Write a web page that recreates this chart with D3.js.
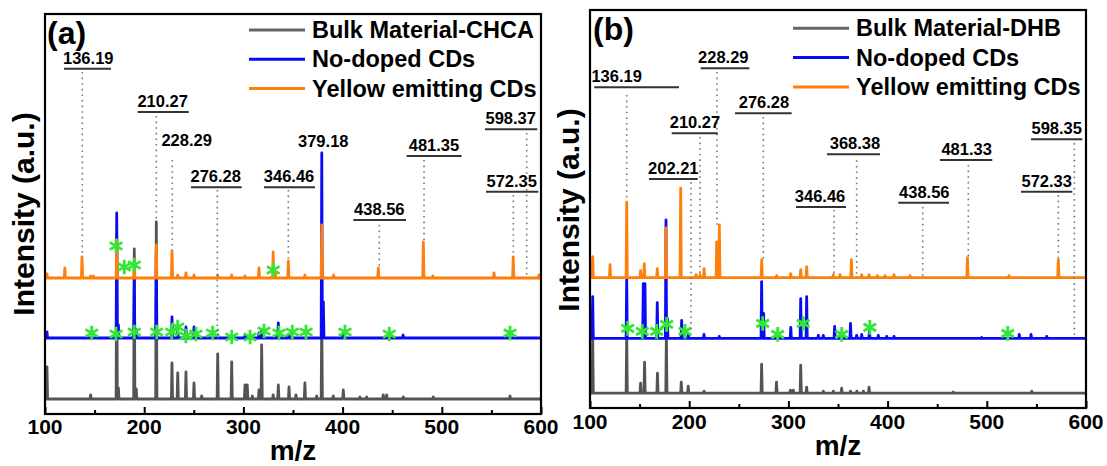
<!DOCTYPE html>
<html><head><meta charset="utf-8">
<script src="https://cdn.jsdelivr.net/npm/d3@7"></script>
<style>
body{margin:0;background:#fff}
text{font-family:"Liberation Sans",Arial,Helvetica,sans-serif;font-weight:bold;fill:#000}
</style>
</head><body>
<svg id="chart" width="1107" height="466"></svg>
<script>
// ---------- data ----------
const mzTicks = [100, 200, 300, 400, 500, 600];
const mzMinorTicks = [150, 250, 350, 450, 550];
const seriesA = ["Bulk Material-CHCA", "No-doped CDs", "Yellow emitting CDs"];
const seriesB = ["Bulk Material-DHB", "No-doped CDs", "Yellow emitting CDs"];
// baseline offsets (a.u.) of stacked spectra: bulk, no-doped, yellow
const offsetsA = [15, 76, 136];
const offsetsB = [15, 70, 131];

// peaks: [m/z, relative intensity]
const bulkA = [[102,32],[146,4],[172.3,165],[174,11],[190,150],[192,10],[212.2,177],[228,36],[233.8,26],[242.1,27],[250.2,16],[258,3],[274.1,45],[288.2,37],[301.6,14],[303.9,14],[309,3],[315.7,9],[318.4,54],[330,4],[335.2,14],[346,12],[353,4],[362,16],[373.9,3],[379,80],[390.6,3],[400.7,9],[417.5,2],[424.3,2],[441,4],[444.4,4],[461.2,2],[491.4,2],[568.8,3]];
const nodopedA = [[102,6],[172.3,125],[174,13],[190,58],[192,8],[212.2,85],[228,21],[233.8,8],[242.1,11],[250.2,11],[274.1,3],[288.2,2],[301.6,2],[315.7,5],[318.4,8],[335.2,15],[346,3],[379,185],[380.6,36],[400.7,3],[461,3]];
const yellowA = [[102,4],[120,10],[137.3,21],[146,2],[149,2],[172.3,38],[190,18],[212.2,33],[228,27],[233.8,3],[242.1,5],[250.2,3],[274.1,3],[288.2,3],[301.6,2],[315.7,10],[330,26],[332,6],[345.3,17],[362,3],[379,53],[391,3],[436,10],[481.4,36],[491,2],[552.6,5],[572,21],[598,3]];
// asterisk markers: [m/z, height above that spectrum's baseline]
const starsYellowA = [[171.6,32],[179.9,11],[190,13],[330.1,8]];
const starsNodopedA = [[147.1,5],[171.6,4],[190,6],[212.6,6],[227.7,6],[233.8,11],[242.1,2],[252.2,4],[269,5],[288.2,1],[306.7,1],[320.8,7],[335.9,5],[349.3,6],[363.1,6],[402.4,6],[447.1,4],[568.8,5]];

const bulkB = [[102.7,60],[137,60],[151,10],[155,31],[168,20],[177,60],[192,11],[199,7],[215,2],[273,29],[288,11],[302,3],[305,3],[312.4,28],[318.4,6],[335.2,2],[345.3,2],[353.7,5],[362.6,2],[369,2],[375.6,2],[381.3,6],[466.2,1],[545.3,2]];
const nodopedB = [[102.7,42],[137,60],[153.7,55],[155.4,55],[167.8,36],[176.6,119],[178,20],[192.4,18],[199.1,4],[214.9,4],[230.3,2],[273,57],[275,25],[302.4,11],[312.4,40],[318.4,42],[330.2,3],[335.2,3],[346.6,12],[362.6,15],[368.8,3],[373.9,4],[381.7,8],[390.6,3],[399.1,2],[406.5,2],[494.8,1],[532.7,4],[544.6,4],[560.4,2]];
const yellowB = [[102.7,21],[120.2,13],[137,76],[151,7],[154.7,14],[167.8,9],[176.6,50],[191.4,90],[206.9,3],[210.9,3],[215,9],[227.7,36],[230.4,53],[273.1,18],[288.2,2],[302.3,4],[312.4,8],[318.4,11],[345.3,3],[352,3],[363.5,18],[373.9,3],[381.3,3],[389.6,2],[397.4,2],[406.5,3],[422.6,2],[480.5,20],[522.4,2],[572.1,18]];
const starsNodopedB = [[138,10],[152.7,7],[167.2,7],[177.3,14],[195.8,7],[274.1,15],[289.2,4],[315,15],[353.7,4],[382.1,11],[521.1,5]];

// peak annotations: text, label centre m/z, underline level, underline m/z span (null = none), guide m/z, guide top, guide bottom
const annotA = [
  {t:"136.19", cx:143.6, y:345.3, u:[119.2,166.5], lx:137.6, l:[342,161]},
  {t:"210.27", cx:218.6, y:302,   u:[193.4,244.9], lx:212.2, l:[298,192]},
  {t:"228.29", cx:242.8, y:263.3, u:null,          lx:228.3, l:[254,164]},
  {t:"276.28", cx:272.1, y:226.7, u:[247.2,298.3], lx:273.7, l:[224,83]},
  {t:"346.46", cx:346.0, y:226.7, u:[320.8,372.2], lx:345.3, l:[224,153]},
  {t:"379.18", cx:380.5, y:262.3, u:null,          lx:null,  l:null},
  {t:"438.56", cx:437.0, y:194,   u:[410.8,463.9], lx:437.0, l:[189,146]},
  {t:"481.35", cx:492.1, y:258,   u:[464.6,520.0], lx:482.1, l:[254,172]},
  {t:"598.37", cx:569.5, y:284.7, u:[543.5,596.3], lx:585.6, l:[281,139]},
  {t:"572.35", cx:570.5, y:222.3, u:[544.6,597.3], lx:572.1, l:[219,157]}
];
const annotB = [
  {t:"136.19", cx:126.9, y:322.3, u:[104.3,189.7], lx:137.0, l:[314.6,208]},
  {t:"228.29", cx:234.4, y:341.4, u:[211.6,260.6], lx:228.0, l:[337.7,184]},
  {t:"276.28", cx:275.4, y:296.2, u:[246.2,303.3], lx:274.7, l:[292.5,149.7]},
  {t:"210.27", cx:205.8, y:276.1, u:[182.4,228.7], lx:210.9, l:[272.4,132.7]},
  {t:"202.21", cx:184.0, y:230.2, u:[159.5,208.6], lx:201.8, l:[227.1,78.4]},
  {t:"346.46", cx:331.9, y:202,   u:[307.7,358.1], lx:346.0, l:[199,132.7]},
  {t:"368.38", cx:367.1, y:255,   u:[338.9,392.3], lx:368.8, l:[249,133.7]},
  {t:"438.56", cx:437.0, y:206.3, u:[410.8,461.9], lx:435.4, l:[202,132.7]},
  {t:"481.33", cx:479.7, y:249.2, u:[452.8,505.5], lx:481.4, l:[244.2,151.8]},
  {t:"598.35", cx:570.5, y:270,   u:[544.6,596.3], lx:588.2, l:[266.3,70.4]},
  {t:"572.33", cx:560.4, y:217.4, u:[534.5,586.2], lx:572.1, l:[214,149.7]}
];

// ---------- layout / style ----------
const colors = ["#545454", "#0a0af5", "#ff7f0a"];
const starColor = "#33e633";
const panels = [
  {id:"a", letter:"(a)", x0:45, x1:541, y0:14, y1:414, names:seriesA, offsets:offsetsA,
   spectra:[bulkA,nodopedA,yellowA], stars:[[1,starsNodopedA],[2,starsYellowA]], annot:annotA,
   legX:249, legY:30, tickY:434, titleY:460, yTitleX:24, yTitleY:214, letterX:47, letterY:44},
  {id:"b", letter:"(b)", x0:590, x1:1086, y0:10, y1:408, names:seriesB, offsets:offsetsB,
   spectra:[bulkB,nodopedB,yellowB], stars:[[1,starsNodopedB]], annot:annotB,
   legX:793, legY:28.3, tickY:429, titleY:455, yTitleX:569, yTitleY:210, letterX:593, letterY:40}
];

const svg = d3.select("#chart");

function spikes(peaks){
  const pts = [[100,0]];
  peaks.slice().sort((a,b)=>a[0]-b[0]).forEach(([m,h])=>{
    pts.push([m-0.6,0],[m,h],[m+0.6,0]);
  });
  pts.push([600,0]);
  return pts;
}

panels.forEach(p=>{
  const x = d3.scaleLinear().domain([100,600]).range([p.x0,p.x1]);
  const y = d3.scaleLinear().domain([0,400]).range([p.y1,p.y0]);
  const g = svg.append("g");
  const clipId = "clip"+p.id;
  svg.append("clipPath").attr("id",clipId).append("rect")
    .attr("x",p.x0).attr("y",p.y0).attr("width",p.x1-p.x0).attr("height",p.y1-p.y0);

  const plot = g.append("g").attr("clip-path",`url(#${clipId})`);
  // spectra
  p.spectra.forEach((peaks,i)=>{
    const off = p.offsets[i];
    const line = d3.line().x(d=>x(d[0])).y(d=>y(off+d[1]));
    plot.append("path").attr("d",line(spikes(peaks)))
      .attr("fill","none").attr("stroke",colors[i]).attr("stroke-width",2.8)
      .attr("stroke-linejoin","round");
  });
  // asterisks
  const star = d3.symbol().type(d3.symbolAsterisk).size(150);
  p.stars.forEach(([si,list])=>{
    plot.selectAll(null).data(list).enter().append("path")
      .attr("d",star)
      .attr("transform",d=>`translate(${x(d[0])},${y(p.offsets[si]+d[1])})`)
      .attr("fill","none").attr("stroke",starColor).attr("stroke-width",2.8);
  });
  // guide lines + labels
  p.annot.forEach(a=>{
    if(a.lx!==null){
      g.append("line").attr("x1",x(a.lx)).attr("x2",x(a.lx))
        .attr("y1",y(a.l[0])).attr("y2",y(a.l[1]))
        .attr("stroke","#777").attr("stroke-width",1.6).attr("stroke-dasharray","1.6,4");
    }
    if(a.u){
      g.append("line").attr("x1",x(a.u[0])).attr("x2",x(a.u[1]))
        .attr("y1",y(a.y)).attr("y2",y(a.y)).attr("stroke","#333").attr("stroke-width",2);
    }
    g.append("text").attr("x",x(a.cx)).attr("y",y(a.y)-5)
      .attr("text-anchor","middle").attr("font-size",16.5).text(a.t);
  });
  // frame
  g.append("rect").attr("x",p.x0).attr("y",p.y0).attr("width",p.x1-p.x0).attr("height",p.y1-p.y0)
    .attr("fill","none").attr("stroke","#000").attr("stroke-width",2.2);
  // bottom axis ticks (inward)
  const ax = d3.axisBottom(x).tickValues(mzTicks).tickSize(-7).tickFormat("");
  const axG = g.append("g").attr("transform",`translate(0,${p.y1})`).call(ax);
  axG.select(".domain").remove();
  axG.selectAll("line").attr("stroke","#000").attr("stroke-width",2);
  const axm = d3.axisBottom(x).tickValues(mzMinorTicks).tickSize(-4).tickFormat("");
  const axmG = g.append("g").attr("transform",`translate(0,${p.y1})`).call(axm);
  axmG.select(".domain").remove();
  axmG.selectAll("line").attr("stroke","#000").attr("stroke-width",2);
  // tick labels
  g.selectAll(null).data(mzTicks).enter().append("text")
    .attr("x",d=>x(d)).attr("y",p.tickY).attr("text-anchor","middle")
    .attr("font-size",21).text(d=>d);
  // titles
  g.append("text").attr("x",(p.x0+p.x1)/2).attr("y",p.titleY).attr("text-anchor","middle")
    .attr("font-size",28).text("m/z");
  g.append("text").attr("transform",`translate(${p.yTitleX+10},${p.yTitleY}) rotate(-90)`)
    .attr("text-anchor","middle").attr("font-size",30).text("Intensity (a.u.)");
  g.append("text").attr("x",p.letterX).attr("y",p.letterY).attr("font-size",32).text(p.letter);
  // legend
  p.names.forEach((n,i)=>{
    const ly = p.legY + i*29.3;
    g.append("line").attr("x1",p.legX).attr("x2",p.legX+56).attr("y1",ly).attr("y2",ly)
      .attr("stroke", i===0 ? "#666" : colors[i]).attr("stroke-width",3);
    g.append("text").attr("x",p.legX+63).attr("y",ly+8).attr("font-size",23.5).text(n);
  });
});
</script>
</body></html>
